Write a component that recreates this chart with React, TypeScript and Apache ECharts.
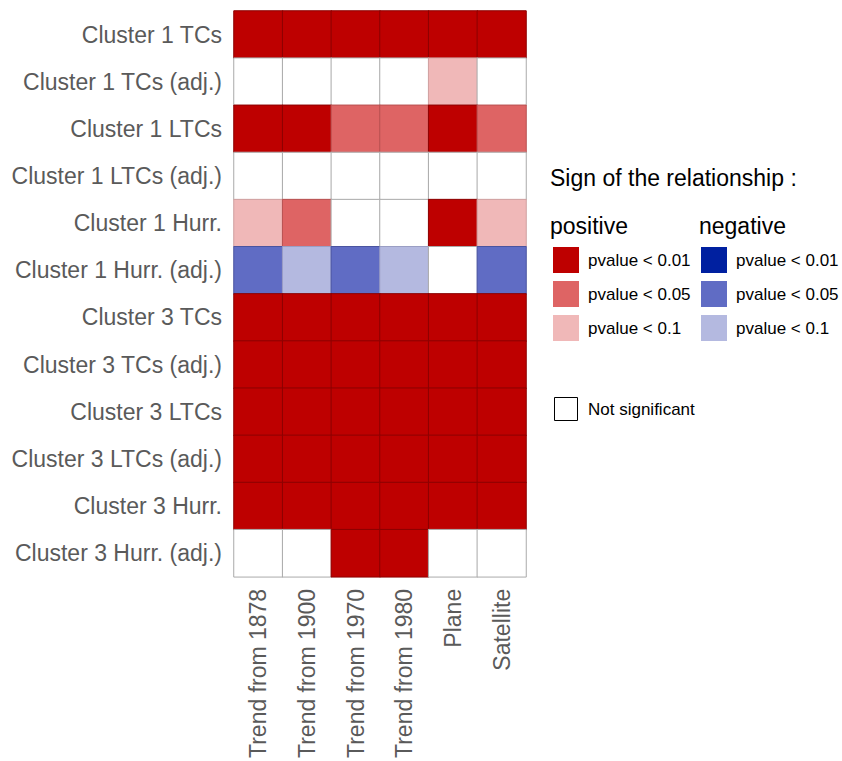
import React, { useEffect, useRef } from "react";
import * as echarts from "echarts";

const columns = ["Trend from 1878", "Trend from 1900", "Trend from 1970", "Trend from 1980", "Plane", "Satellite"];
const rows = [
  "Cluster 1 TCs",
  "Cluster 1 TCs (adj.)",
  "Cluster 1 LTCs",
  "Cluster 1 LTCs (adj.)",
  "Cluster 1 Hurr.",
  "Cluster 1 Hurr. (adj.)",
  "Cluster 3 TCs",
  "Cluster 3 TCs (adj.)",
  "Cluster 3 LTCs",
  "Cluster 3 LTCs (adj.)",
  "Cluster 3 Hurr.",
  "Cluster 3 Hurr. (adj.)",
];
// +3/+2/+1 positive p<0.01/0.05/0.1, -3/-2/-1 negative, 0 not significant
const significance = [
  [3, 3, 3, 3, 3, 3],
  [0, 0, 0, 0, 1, 0],
  [3, 3, 2, 2, 3, 2],
  [0, 0, 0, 0, 0, 0],
  [1, 2, 0, 0, 3, 1],
  [-2, -1, -2, -1, 0, -2],
  [3, 3, 3, 3, 3, 3],
  [3, 3, 3, 3, 3, 3],
  [3, 3, 3, 3, 3, 3],
  [3, 3, 3, 3, 3, 3],
  [3, 3, 3, 3, 3, 3],
  [0, 0, 3, 3, 0, 0],
];
const legendLabels = ["pvalue < 0.01", "pvalue < 0.05", "pvalue < 0.1"];

const fillFor: Record<string, string> = {
  "3": "#BE0000",
  "2": "#DE6464",
  "1": "#F0B8B8",
  "0": "#FFFFFF",
  "-1": "#B4B9E0",
  "-2": "#606CC4",
  "-3": "#0020A0",
};
const borderFor: Record<string, string> = {
  "3": "#8C0000",
  "2": "#B85050",
  "1": "#D0A0A0",
  "0": "#AAAAAA",
  "-1": "#9A9EC4",
  "-2": "#4A54A0",
  "-3": "#001878",
};

export default function App() {
  const ref = useRef<HTMLDivElement>(null);
  useEffect(() => {
    if (!ref.current) return;
    const chart = echarts.init(ref.current, null, { renderer: "svg" });
    const data: any[] = [];
    significance.forEach((row, yi) => {
      row.forEach((v, xi) => {
        data.push({
          value: [xi, yi, v],
          itemStyle: { borderColor: borderFor[String(v)], borderWidth: 1 },
        });
      });
    });

    const font = "'Liberation Sans', Arial, sans-serif";
    const graphics: any[] = [
      {
        type: "text",
        x: 550,
        y: 178,
        style: { text: "Sign of the relationship :", font: `23px ${font}`, fill: "#000", textVerticalAlign: "middle" },
      },
      { type: "text", x: 550, y: 226, style: { text: "positive", font: `23px ${font}`, fill: "#000", textVerticalAlign: "middle" } },
      { type: "text", x: 699, y: 226, style: { text: "negative", font: `23px ${font}`, fill: "#000", textVerticalAlign: "middle" } },
    ];
    [3, 2, 1].forEach((lv, i) => {
      const y = 247 + i * 34;
      graphics.push({
        type: "rect",
        shape: { x: 553, y, width: 26, height: 26 },
        style: { fill: fillFor[String(lv)] },
      });
      graphics.push({
        type: "text",
        x: 588,
        y: y + 13,
        style: { text: legendLabels[i], font: `17px ${font}`, fill: "#000", textVerticalAlign: "middle" },
      });
      graphics.push({
        type: "rect",
        shape: { x: 701, y, width: 26, height: 26 },
        style: { fill: fillFor[String(-lv)] },
      });
      graphics.push({
        type: "text",
        x: 736,
        y: y + 13,
        style: { text: legendLabels[i], font: `17px ${font}`, fill: "#000", textVerticalAlign: "middle" },
      });
    });
    graphics.push({
      type: "rect",
      shape: { x: 554.5, y: 397.5, width: 23, height: 23 },
      style: { fill: "#fff", stroke: "#000", lineWidth: 1 },
    });
    graphics.push({
      type: "text",
      x: 588,
      y: 409,
      style: { text: "Not significant", font: `17px ${font}`, fill: "#000", textVerticalAlign: "middle" },
    });

    const pieces = [3, 2, 1, 0, -1, -2, -3].map((v) => ({ value: v, color: fillFor[String(v)] }));

    chart.setOption({
      animation: false,
      grid: { left: 234, top: 11, width: 292, height: 570, containLabel: false },
      visualMap: {
        type: "piecewise",
        show: false,
        dimension: 2,
        pieces,
        seriesIndex: 0,
      },
      xAxis: {
        type: "category",
        data: columns,
        axisLine: { show: false },
        axisTick: { show: false },
        splitLine: { show: false },
        axisLabel: { rotate: 90, fontSize: 23, color: "#5a5a5a", fontFamily: font, margin: 12 },
      },
      yAxis: {
        type: "category",
        data: rows,
        inverse: true,
        axisLine: { show: false },
        axisTick: { show: false },
        splitLine: { show: false },
        axisLabel: { fontSize: 23, color: "#5a5a5a", fontFamily: font, margin: 12 },
      },
      series: [
        {
          type: "heatmap",
          data,
          label: { show: false },
          emphasis: { disabled: true },
        },
      ],
      graphic: graphics,
    });
    return () => chart.dispose();
  }, []);
  return <div ref={ref} style={{ position: "absolute", left: 0, top: 0, width: 842, height: 761 }} />;
}
